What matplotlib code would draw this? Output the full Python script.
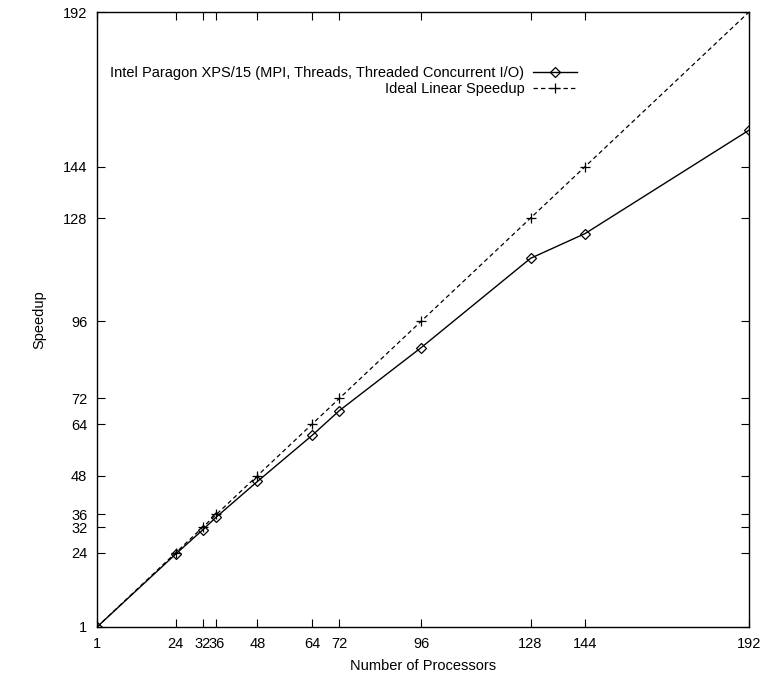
import numpy as np
import matplotlib.pyplot as plt

plt.rcParams['font.family'] = ['Liberation Sans', 'DejaVu Sans']

# data
procs = [1, 24, 32, 36, 48, 64, 72, 96, 128, 144, 192]
paragon = [1, 23.6, 31.2, 35.2, 46.2, 60.5, 68.2, 87.8, 115.5, 123.2, 155.3]
ideal = [1, 24, 32, 36, 48, 64, 72, 96, 128, 144, 192]
ticks = [1, 24, 32, 36, 48, 64, 72, 96, 128, 144, 192]

fig = plt.figure(figsize=(7.65, 6.74), dpi=100)
ax = fig.add_axes([97 / 765, 1 - 627 / 674, 652 / 765, 615 / 674])

ax.plot(procs, paragon, color='black', lw=1.0, marker='D', markersize=5.5,
        markerfacecolor='none', markeredgewidth=0.9,
        label='Intel Paragon XPS/15 (MPI, Threads, Threaded Concurrent I/O)')
ax.plot(procs, ideal, color='black', lw=0.9, dashes=(3.5, 2.5), marker='+',
        markersize=6.5, markeredgewidth=0.9, label='Ideal Linear Speedup')

ax.set_xlim(1, 192)
ax.set_ylim(1, 192)
ax.set_xticks(ticks)
ax.set_yticks(ticks)
ax.tick_params(direction='in', length=6, width=0.8, top=True, right=True,
               labelsize=10.5, pad=7)
for s in ax.spines.values():
    s.set_linewidth(1.0)

ax.set_xlabel('Number of Processors', fontsize=10.5, labelpad=6)
ax.set_ylabel('Speedup', fontsize=10.5, labelpad=12)

leg = ax.legend(loc='upper right', bbox_to_anchor=(0.736, 0.912), frameon=False,
                markerfirst=False, fontsize=10.5, handlelength=3.0,
                handletextpad=0.6, borderpad=0, borderaxespad=0,
                labelspacing=0.15)

fig.savefig('out.png', dpi=100)
